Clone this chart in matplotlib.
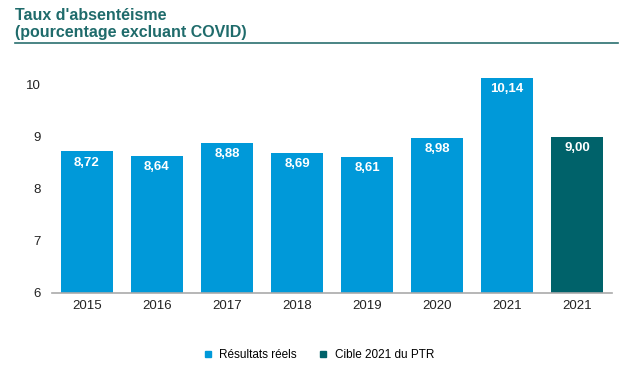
import matplotlib
matplotlib.use("Agg")
import matplotlib.pyplot as plt
from matplotlib.lines import Line2D

plt.rcParams['font.family'] = ['Liberation Sans', 'DejaVu Sans']

# data
years = ["2015", "2016", "2017", "2018", "2019", "2020", "2021", "2021"]
values = [8.72, 8.64, 8.88, 8.69, 8.61, 8.98, 10.14, 9.00]
labels = ["8,72", "8,64", "8,88", "8,69", "8,61", "8,98", "10,14", "9,00"]
is_target = [False, False, False, False, False, False, False, True]

blue = "#0099d9"
teal = "#00626a"

fig = plt.figure(figsize=(6.3, 3.76), dpi=100)
# y=6 at 293px, y=10 at 85px -> 52 px per unit; top at 10.3
ax = fig.add_axes([0.0825, 0.221, 0.889, (293 - 69.4) / 376])

x = list(range(len(years)))
colors = [teal if t else blue for t in is_target]
bars = ax.bar(x, [v - 6 for v in values], bottom=6, width=0.75, color=colors)

for i, b in enumerate(bars):
    ax.text(b.get_x() + b.get_width() / 2, values[i] - 0.1, labels[i],
            ha="center", va="top", color="white", fontsize=9.5, fontweight="bold")

ax.set_xlim(-0.5, 7.5)
ax.set_ylim(6, 10.3)
ax.set_yticks([6, 7, 8, 9, 10])
ax.set_xticks(x)
ax.set_xticklabels(years)
ax.tick_params(length=0, labelsize=9.5, colors="#222222")
ax.tick_params(axis="y", pad=8)
ax.tick_params(axis="x", pad=5)
for s in ["top", "right", "left"]:
    ax.spines[s].set_visible(False)
ax.spines["bottom"].set_color("#aaaaaa")
ax.spines["bottom"].set_linewidth(1.2)

# title
fig.text(15 / 630, 1 - 15 / 376, "Taux d'absentéisme",
         ha="left", va="center", fontsize=11.5, fontweight="bold", color="#1f6b6b")
fig.text(15 / 630, 1 - 32 / 376, "(pourcentage excluant COVID)",
         ha="left", va="center", fontsize=11.5, fontweight="bold", color="#1f6b6b")
fig.add_artist(Line2D([15 / 630, 618 / 630], [1 - 43 / 376, 1 - 43 / 376],
                      color="#2a6f6f", linewidth=1.2))

handles = [Line2D([], [], marker="s", linestyle="", color=blue, markersize=4.5),
           Line2D([], [], marker="s", linestyle="", color=teal, markersize=4.5)]
fig.legend(handles, ["Résultats réels", "Cible 2021 du PTR"], loc="center",
           bbox_to_anchor=(0.5, 1 - 355 / 376), ncol=2, frameon=False,
           fontsize=8.5, handletextpad=0.0, columnspacing=1.2)

fig.savefig("out.png", dpi=100)
